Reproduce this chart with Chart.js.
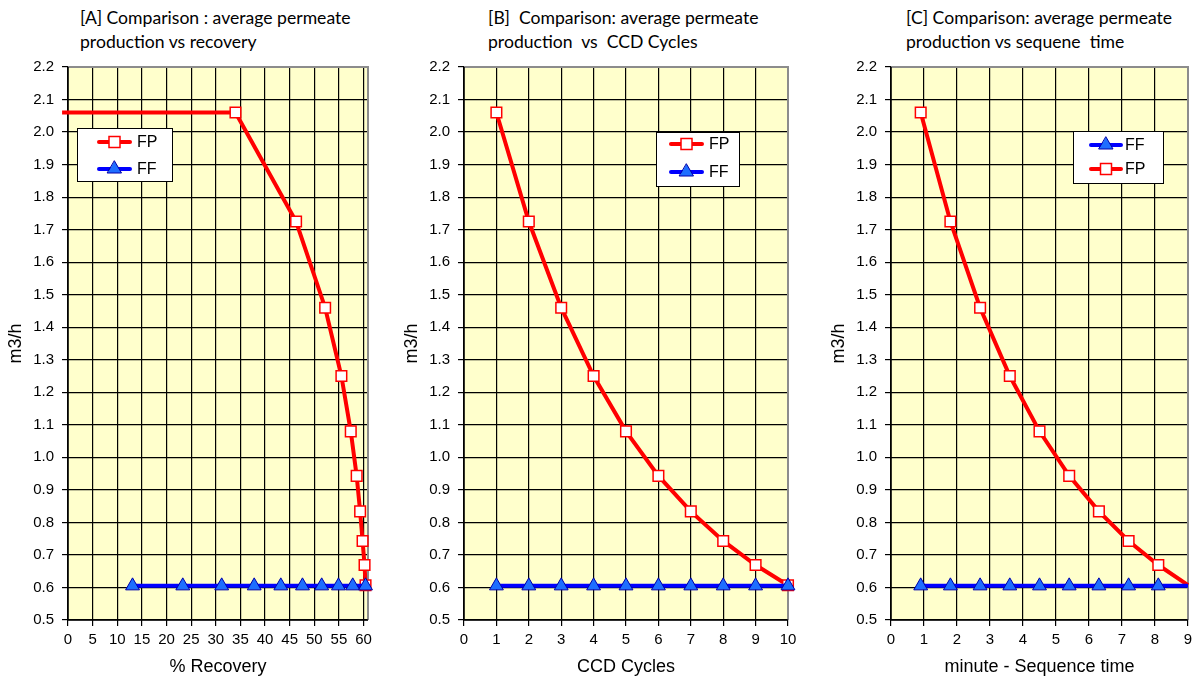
<!DOCTYPE html>
<html>
<head>
<meta charset="utf-8">
<script src="https://cdn.jsdelivr.net/npm/chart.js@4.4.1/dist/chart.umd.min.js"></script>
<style>
  body { margin: 0; width: 1197px; height: 679px; overflow: hidden; background: #fff; position: relative; }
  .panel { position: absolute; top: 0; height: 679px; }
  .title { position: absolute; top: 6px; font: 17.6px/24px Lato, "Open Sans", sans-serif; color: #000; white-space: nowrap; }
</style>
</head>
<body>
<div class="title" style="left:80px">[A] Comparison : average permeate<br>production vs recovery</div>
<div class="title" style="left:488px">[B]&nbsp; Comparison: average permeate<br>production&nbsp; vs&nbsp; CCD Cycles</div>
<div class="title" style="left:906px">[C] Comparison: average permeate<br>production vs sequene&nbsp; time</div>

<div class="panel" style="left:0;width:390px"><canvas id="chartA"></canvas></div>
<div class="panel" style="left:396px;width:410px"><canvas id="chartB"></canvas></div>
<div class="panel" style="left:823px;width:374px"><canvas id="chartC"></canvas></div>

<script>
// values
const fpProduction = [2.06, 1.725, 1.46, 1.25, 1.08, 0.943, 0.834, 0.743, 0.669, 0.607];
const ffProduction = [0.605, 0.605, 0.605, 0.605, 0.605, 0.605, 0.605, 0.605, 0.605, 0.605];

// [A] red line starts a bit left of the axis, without a marker
const fpRecovery = [-1.2, 34.0, 46.3, 52.2, 55.5, 57.4, 58.6, 59.3, 59.8, 60.2, 60.4];
const fpProductionA = [2.06, 2.06, 1.725, 1.46, 1.25, 1.08, 0.943, 0.834, 0.743, 0.669, 0.607];
const ffRecovery = [13.1, 23.3, 31.2, 37.8, 43.2, 47.6, 51.5, 54.9, 57.8, 60.4];

const ccdCycles = [1, 2, 3, 4, 5, 6, 7, 8, 9, 10];
const seqTime = [0.9, 1.8, 2.7, 3.6, 4.5, 5.4, 6.3, 7.2, 8.1, 9.0];

const RED = "#FF0000";
const BLUE = "#0000FF";
const TRI = "#1E6EFF";

Chart.defaults.font.family = "'Liberation Sans Narrow', 'Arial Narrow', 'Liberation Sans', Arial, sans-serif";
Chart.defaults.color = "#000";

function pts(xs, ys) {
  return xs.map((x, i) => ({ x: x, y: ys[i] }));
}

const plotFrame = {
  id: "plotFrame",
  beforeDraw(chart) {
    const { ctx, chartArea: a } = chart;
    ctx.save();
    ctx.fillStyle = "#FFFFCC";
    ctx.fillRect(a.left, a.top, a.width, a.height);
    ctx.restore();
  },
  beforeDatasetsDraw(chart) {
    const { ctx, chartArea: a } = chart;
    ctx.save();
    ctx.strokeStyle = "#8c8c8c";
    ctx.lineWidth = 2;
    ctx.beginPath();
    ctx.moveTo(a.left, a.top);
    ctx.lineTo(a.right, a.top);
    ctx.lineTo(a.right, a.bottom);
    ctx.stroke();
    ctx.strokeStyle = "#000";
    ctx.lineWidth = 1.5;
    ctx.beginPath();
    ctx.moveTo(a.left, a.top);
    ctx.lineTo(a.left, a.bottom);
    ctx.lineTo(a.right, a.bottom);
    ctx.stroke();
    ctx.restore();
  }
};

function marker(ctx, style, x, y) {
  ctx.beginPath();
  if (style === "rect") {
    ctx.rect(x - 5.5, y - 5.5, 11, 11);
    ctx.fillStyle = "#fff";
    ctx.strokeStyle = RED;
    ctx.lineWidth = 1.5;
  } else {
    ctx.moveTo(x, y - 8);
    ctx.lineTo(x + 7, y + 4);
    ctx.lineTo(x - 7, y + 4);
    ctx.closePath();
    ctx.fillStyle = TRI;
    ctx.strokeStyle = "#0000AA";
    ctx.lineWidth = 1;
  }
  ctx.fill();
  ctx.stroke();
}

const boxLegend = {
  id: "boxLegend",
  afterDatasetsDraw(chart, args, opts) {
    const { ctx } = chart;
    const b = opts.box;
    ctx.save();
    ctx.fillStyle = "#fff";
    ctx.fillRect(b.x, b.y, b.w, b.h);
    ctx.strokeStyle = "#000";
    ctx.lineWidth = 1;
    ctx.strokeRect(b.x + 0.5, b.y + 0.5, b.w, b.h);
    opts.rows.forEach((r) => {
      ctx.strokeStyle = r.color;
      ctx.lineWidth = 4;
      ctx.lineCap = "round";
      ctx.beginPath();
      ctx.moveTo(opts.x1, r.y);
      ctx.lineTo(opts.x2, r.y);
      ctx.stroke();
      marker(ctx, r.style, (opts.x1 + opts.x2) / 2, r.y);
      ctx.fillStyle = "#000";
      ctx.font = "16px " + Chart.defaults.font.family;
      ctx.textBaseline = "middle";
      ctx.textAlign = "left";
      ctx.fillText(r.label, opts.tx, r.y + 1);
    });
    ctx.restore();
  }
};

function fpSet(data, extra) {
  return Object.assign({
    label: "FP",
    data: data,
    borderColor: RED,
    borderWidth: 4,
    pointStyle: "rect",
    pointRadius: 7.5,
    pointBorderWidth: 1.5,
    pointBorderColor: RED,
    pointBackgroundColor: "#fff",
    order: 1,
    clip: 8
  }, extra || {});
}

function ffSet(data, extra) {
  return Object.assign({
    label: "FF",
    data: data,
    borderColor: BLUE,
    borderWidth: 4,
    pointStyle: "triangle",
    pointRadius: 8,
    pointBorderWidth: 1,
    pointBorderColor: "#0000AA",
    pointBackgroundColor: TRI,
    order: 0,
    clip: 8
  }, extra || {});
}

const gridOpts = { color: "#000", lineWidth: 1.2, tickLength: 6, tickColor: "#000" };

function makeChart(id, datasets, xOpts, xTitle, padRight, legend) {
  new Chart(document.getElementById(id), {
    type: "line",
    data: { datasets: datasets },
    plugins: [plotFrame, boxLegend],
    options: {
      responsive: true,
      maintainAspectRatio: false,
      animation: false,
      layout: { padding: { top: 67, right: padRight, bottom: 0, left: 0 } },
      elements: { line: { tension: 0 } },
      plugins: {
        legend: { display: false },
        tooltip: { enabled: false },
        boxLegend: legend
      },
      scales: {
        x: Object.assign({
          type: "linear",
          grid: gridOpts,
          border: { display: false },
          ticks: { stepSize: 1, padding: 5, autoSkip: false, maxRotation: 0, font: { size: 15 } },
          title: { display: true, text: xTitle, font: { size: 18 }, padding: { top: 0, bottom: 1 } },
          afterFit(s) { s.height = 59; s.paddingLeft = 0; s.paddingRight = 0; }
        }, xOpts),
        y: {
          type: "linear",
          min: 0.5,
          max: 2.2,
          grid: gridOpts,
          border: { display: false },
          ticks: {
            stepSize: 0.1,
            padding: 8,
            font: { size: 15 },
            callback: (v) => v.toFixed(1)
          },
          title: { display: true, text: "m3/h", font: { size: 18 }, padding: { top: 5, bottom: 0 } },
          afterFit(s) { s.width = 68; }
        }
      }
    }
  });
}

makeChart("chartA",
  [ffSet(pts(ffRecovery, ffProduction)),
   fpSet(pts(fpRecovery, fpProductionA), { pointRadius: (c) => (c.dataIndex === 0 ? 0 : 7.5) })],
  { min: 0, max: 60.9, ticks: { stepSize: 5, includeBounds: false, padding: 5, autoSkip: false, maxRotation: 0, font: { size: 15 } } },
  "% Recovery", 22,
  {
    box: { x: 77, y: 128, w: 95, h: 53 },
    x1: 99, x2: 130, tx: 137,
    rows: [
      { label: "FP", color: RED, style: "rect", y: 142 },
      { label: "FF", color: BLUE, style: "tri", y: 169 }
    ]
  });

makeChart("chartB",
  [ffSet(pts(ccdCycles, ffProduction)), fpSet(pts(ccdCycles, fpProduction))],
  { min: 0, max: 10 },
  "CCD Cycles", 18,
  {
    box: { x: 260, y: 132, w: 83, h: 54 },
    x1: 275, x2: 306, tx: 313,
    rows: [
      { label: "FP", color: RED, style: "rect", y: 144 },
      { label: "FF", color: BLUE, style: "tri", y: 172 }
    ]
  });

const hideLast = (c) => (c.dataIndex === 9 ? 0 : c.dataset.pointStyle === "rect" ? 7.5 : 8);
makeChart("chartC",
  [ffSet(pts(seqTime, ffProduction), { pointRadius: hideLast }),
   fpSet(pts(seqTime, fpProduction), { pointRadius: hideLast })],
  { min: 0, max: 9 },
  "minute - Sequence time", 3,
  {
    box: { x: 250, y: 131, w: 90, h: 52 },
    x1: 268, x2: 298, tx: 302,
    rows: [
      { label: "FF", color: BLUE, style: "tri", y: 145 },
      { label: "FP", color: RED, style: "rect", y: 169 }
    ]
  });
</script>
</body>
</html>
